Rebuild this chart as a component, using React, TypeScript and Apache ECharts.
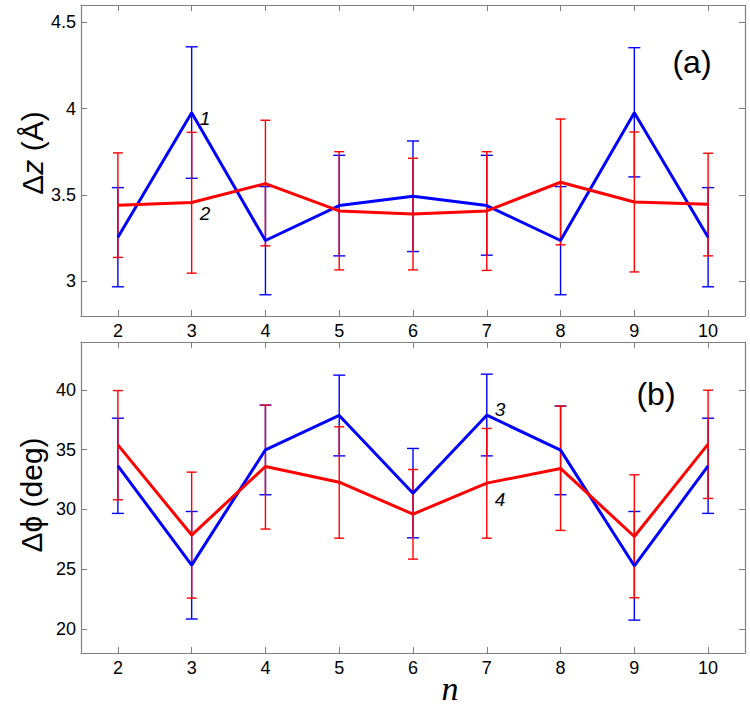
import React, { useEffect, useRef } from "react";
import * as echarts from "echarts";

const N = [2, 3, 4, 5, 6, 7, 8, 9, 10];

const dzBlue = [3.256, 3.977, 3.237, 3.439, 3.493, 3.439, 3.237, 3.977, 3.256];
const dzBlueHi = [3.543, 4.358, 3.549, 3.73, 3.813, 3.73, 3.549, 4.353, 3.543];
const dzBlueLo = [2.969, 3.597, 2.923, 3.148, 3.173, 3.152, 2.923, 3.605, 2.969];
const dzRed = [3.441, 3.457, 3.566, 3.408, 3.391, 3.408, 3.574, 3.46, 3.447];
const dzRedHi = [3.744, 3.863, 3.933, 3.751, 3.713, 3.751, 3.94, 3.865, 3.742];
const dzRedLo = [3.139, 3.048, 3.206, 3.067, 3.067, 3.064, 3.212, 3.055, 3.148];

const dphiBlue = [33.65, 25.35, 34.99, 37.86, 31.36, 37.88, 34.96, 25.29, 33.65];
const dphiBlueHi = [37.63, 29.83, 38.72, 41.23, 35.1, 41.31, 38.64, 29.83, 37.63];
const dphiBlueLo = [29.67, 20.84, 31.23, 34.48, 27.63, 34.48, 31.23, 20.75, 29.67];
const dphiRed = [35.4, 27.86, 33.59, 32.28, 29.61, 32.2, 33.43, 27.74, 35.46];
const dphiRedHi = [39.94, 33.12, 38.72, 36.91, 33.34, 36.77, 38.64, 32.9, 39.97];
const dphiRedLo = [30.81, 22.59, 28.36, 27.6, 25.85, 27.6, 28.25, 22.62, 30.92];

const dzTicks = [3, 3.5, 4, 4.5];
const dphiTicks = [20, 25, 30, 35, 40];

const BLUE = "#0000ff";
const RED = "#ff0000";
const AXIS = "#808080";
const FONT = "'Liberation Sans', Arial, sans-serif";

function errSeries(xi: number, yi: number, lo: number[], hi: number[], color: string, cap: number) {
  return {
    type: "custom",
    xAxisIndex: xi,
    yAxisIndex: yi,
    data: N.map((n, i) => [n, lo[i], hi[i]]),
    encode: { x: 0, y: [1, 2] },
    silent: true,
    renderItem: (params: any, api: any) => {
      const x = api.value(0);
      const pLo = api.coord([x, api.value(1)]);
      const pHi = api.coord([x, api.value(2)]);
      const w = cap / 2;
      const st = { stroke: color, lineWidth: 1.4 };
      return {
        type: "group",
        children: [
          { type: "line", shape: { x1: pLo[0], y1: pLo[1], x2: pHi[0], y2: pHi[1] }, style: st },
          { type: "line", shape: { x1: pLo[0] - w, y1: pLo[1], x2: pLo[0] + w, y2: pLo[1] }, style: st },
          { type: "line", shape: { x1: pHi[0] - w, y1: pHi[1], x2: pHi[0] + w, y2: pHi[1] }, style: st },
        ],
      };
    },
  };
}

function lineSeries(xi: number, yi: number, vals: number[], color: string) {
  return {
    type: "line",
    xAxisIndex: xi,
    yAxisIndex: yi,
    data: N.map((n, i) => [n, vals[i]]),
    showSymbol: false,
    symbol: "none",
    lineStyle: { color, width: 3 },
    itemStyle: { color },
    silent: true,
  };
}

function xAx(grid: number, position: string, labels: boolean) {
  return {
    gridIndex: grid,
    type: "value",
    position,
    min: 1.5,
    max: 10.5,
    axisLine: { show: true, onZero: false, lineStyle: { color: AXIS, width: 1.2 } },
    axisTick: { show: true, inside: true, length: 6, customValues: N, lineStyle: { color: AXIS } },
    axisLabel: { show: labels, customValues: N, color: "#000", fontSize: 18, fontFamily: FONT, margin: 6 },
    splitLine: { show: false },
  };
}

function yAx(grid: number, position: string, labels: boolean, min: number, max: number, ticks: number[]) {
  return {
    gridIndex: grid,
    type: "value",
    position,
    min,
    max,
    axisLine: { show: true, onZero: false, lineStyle: { color: AXIS, width: 1.2 } },
    axisTick: { show: true, inside: true, length: 6, customValues: ticks, lineStyle: { color: AXIS } },
    axisLabel: { show: labels, customValues: ticks, color: "#000", fontSize: 18, fontFamily: FONT, margin: 5 },
    splitLine: { show: false },
  };
}

function numLabel(text: string, x: number, y: number) {
  return {
    type: "text",
    x,
    y,
    style: { text, align: "center", verticalAlign: "middle", fill: "#000", fontSize: 19, fontStyle: "italic", fontFamily: FONT },
  };
}

export default function App() {
  const ref = useRef<HTMLDivElement>(null);
  useEffect(() => {
    if (!ref.current) return;
    const chart = echarts.init(ref.current, null, { renderer: "svg" });
    const option: any = {
      animation: false,
      backgroundColor: "#ffffff",
      grid: [
        { left: 81, top: 5, width: 664, height: 311 },
        { left: 81, top: 342, width: 664, height: 311 },
      ],
      xAxis: [xAx(0, "bottom", true), xAx(0, "top", false), xAx(1, "bottom", true), xAx(1, "top", false)],
      yAxis: [
        yAx(0, "left", true, 2.8, 4.6, dzTicks),
        yAx(0, "right", false, 2.8, 4.6, dzTicks),
        yAx(1, "left", true, 18, 44, dphiTicks),
        yAx(1, "right", false, 18, 44, dphiTicks),
      ],
      series: [
        errSeries(0, 0, dzBlueLo, dzBlueHi, BLUE, 12),
        errSeries(0, 0, dzRedLo, dzRedHi, RED, 10),
        lineSeries(0, 0, dzBlue, BLUE),
        lineSeries(0, 0, dzRed, RED),
        errSeries(2, 2, dphiBlueLo, dphiBlueHi, BLUE, 12),
        errSeries(2, 2, dphiRedLo, dphiRedHi, RED, 10),
        lineSeries(2, 2, dphiBlue, BLUE),
        lineSeries(2, 2, dphiRed, RED),
      ],
      graphic: [
        {
          type: "text",
          x: 32,
          y: 153,
          rotation: Math.PI / 2,
          style: {
            text: "{a|Δ}{b|z}{a| (Å)}",
            align: "center",
            verticalAlign: "middle",
            fill: "#000",
            rich: {
              a: { fontSize: 30, fontFamily: FONT, fill: "#000" },
              b: { fontSize: 30, fontFamily: FONT, fontStyle: "italic", fill: "#000" },
            },
          },
        },
        {
          type: "text",
          x: 31,
          y: 495,
          rotation: Math.PI / 2,
          style: {
            text: "Δϕ (deg)",
            align: "center",
            verticalAlign: "middle",
            fill: "#000",
            fontSize: 30,
            fontFamily: FONT,
          },
        },
        {
          type: "text",
          x: 692,
          y: 62,
          style: { text: "(a)", align: "center", verticalAlign: "middle", fill: "#000", fontSize: 32, fontFamily: FONT },
        },
        {
          type: "text",
          x: 656,
          y: 394,
          style: { text: "(b)", align: "center", verticalAlign: "middle", fill: "#000", fontSize: 32, fontFamily: FONT },
        },
        numLabel("1", 205, 118),
        numLabel("2", 205, 213),
        numLabel("3", 500, 409),
        numLabel("4", 500, 499),
        {
          type: "text",
          x: 450,
          y: 688,
          style: {
            text: "n",
            align: "center",
            verticalAlign: "middle",
            fill: "#000",
            fontSize: 34,
            fontStyle: "italic",
            fontFamily: "'Liberation Serif', 'Times New Roman', serif",
          },
        },
      ],
    };
    chart.setOption(option);
    return () => chart.dispose();
  }, []);
  return <div ref={ref} style={{ position: "absolute", left: 0, top: 0, width: 750, height: 706 }} />;
}
